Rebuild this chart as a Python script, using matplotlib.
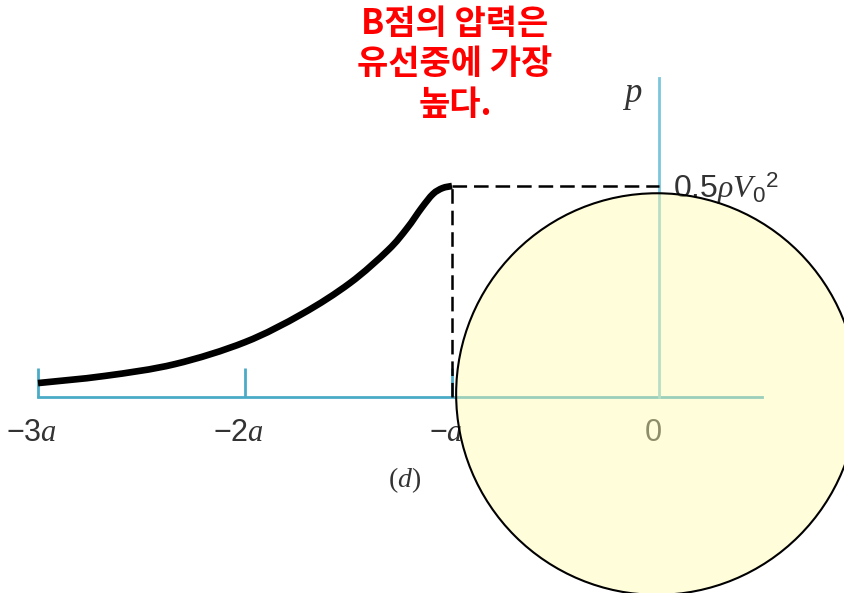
import numpy as np
import matplotlib
matplotlib.use("Agg")
import matplotlib.pyplot as plt
from matplotlib.patches import Ellipse, PathPatch
from matplotlib.path import Path

plt.rcParams['mathtext.fontset'] = 'custom'
plt.rcParams['mathtext.rm'] = 'Liberation Sans'
plt.rcParams['mathtext.it'] = 'Liberation Serif:italic'
plt.rcParams['lines.scale_dashes'] = False

# pressure along the stagnation streamline, x in units of a, p in units of rho*V0^2
x_a = [-3.00, -2.676, -2.338, -2.00, -1.724, -1.493, -1.309, -1.217,
       -1.147, -1.092, -1.046, -1.00]
p_val = [0.033, 0.050, 0.078, 0.130, 0.197, 0.270, 0.348, 0.400,
         0.448, 0.481, 0.495, 0.500]

p_max = 0.5
tick_pos = [-3, -2, -1, 0]
tick_labels = [r"$-3a$", r"$-2a$", r"$-a$", r"$0$"]
note = "B점의 압력은\n유선중에 가장\n높다."

cyl_radius = 0.97   # cylinder drawn around the origin

axis_col = '#4aabc6'
txt_col = '#333333'


def smooth_path(xs, ys):
    # Catmull-Rom through the points, as cubic Bezier segments
    pts = np.column_stack([xs, ys])
    ext = np.vstack([pts[0], pts, pts[-1]])
    verts = [pts[0]]
    codes = [Path.MOVETO]
    for i in range(1, len(ext) - 2):
        p0, p1, p2, p3 = ext[i - 1], ext[i], ext[i + 1], ext[i + 2]
        verts += [p1 + (p2 - p0) / 6, p2 - (p3 - p1) / 6, p2]
        codes += [Path.CURVE4] * 3
    return Path(verts, codes)


fig = plt.figure(figsize=(8.45, 5.93), dpi=100)
ax = fig.add_axes([0, 0, 1, 1])
# 207 px per a horizontally, 422 px per unit of p vertically
ax.set_xlim(-659 / 207, 186 / 207)
ax.set_ylim(-196 / 422, 397 / 422)
ax.axis('off')

# axes
ax.plot([-3, 0.50], [0, 0], color=axis_col, lw=2, zorder=1)
ax.plot([0, 0], [0, 0.756], color='#7cc6dc', lw=2, zorder=1)
ax.vlines(tick_pos[:3], 0, 0.069, color=axis_col, lw=2, zorder=1)

# curve
ax.add_patch(PathPatch(smooth_path(x_a, p_val), facecolor='none',
                       edgecolor='black', lw=4.8, capstyle='butt',
                       joinstyle='round', zorder=3))

# dashed guides to the peak value
ax.plot([x_a[-1], 0], [p_max, p_max], color='black', lw=1.8,
        dashes=(10.5, 5), zorder=2)
ax.plot([x_a[-1], x_a[-1]], [0, p_max], color='black', lw=1.8,
        dashes=(10.5, 5), zorder=2)

# labels
for xp, lab in zip(tick_pos, tick_labels):
    ax.text(xp - 0.03, -0.083, lab, fontsize=22, color=txt_col,
            ha='center', va='center', zorder=2)
ax.text(-1.23, -0.197, r"($\mathit{d}$)", fontsize=20, color=txt_col,
        family='Liberation Serif', ha='center', va='center')
ax.text(-0.13, 0.716, r"$p$", fontsize=25, color=txt_col,
        ha='center', va='center')
ax.text(0.068, 0.495, r"$0.5\rho V_{0}{}^{2}$", fontsize=23, color=txt_col,
        ha='left', va='center', zorder=2)

ax.text(-0.986, 0.79, note, fontsize=24.5, color='#ff0000', fontweight='bold',
        family=['Noto Sans CJK KR', 'DejaVu Sans'], ha='center', va='center',
        linespacing=1.2)

# cylinder
circ = Ellipse((-0.01, 0.007), 2 * cyl_radius, 2 * cyl_radius * 207 / 422,
               facecolor=(1.0, 0.99, 0.68, 0.45), edgecolor='black', lw=1.5,
               zorder=5)
ax.add_patch(circ)

fig.savefig('out.png', dpi=100)
